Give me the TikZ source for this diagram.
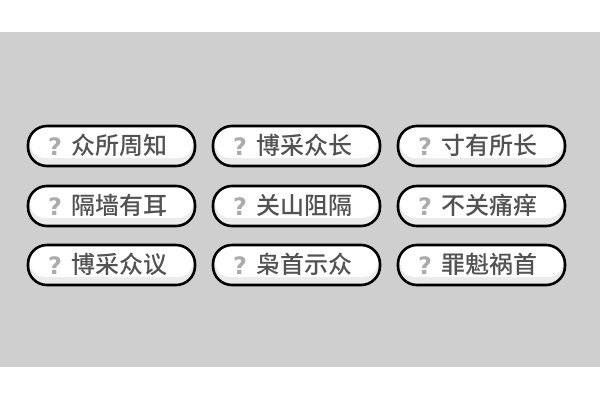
\documentclass[tikz,border=0pt]{standalone}
\usepackage{fontspec}
\newfontfamily\cjk{Noto Sans CJK SC}[BoldFont={* Medium}]
\newfontfamily\qf{DejaVu Sans}
\begin{document}
\begin{tikzpicture}[x=1pt,y=-1pt,
  btn/.style={draw=black,line width=2.6pt,rounded corners=19pt},
  lbl/.style={font=\cjk\bfseries\fontsize{24}{24}\selectfont,text=black!68,anchor=west},
  qm/.style={font=\qf\bfseries\fontsize{24}{24}\selectfont,text=black!33}]
\useasboundingbox (0,0) rectangle (600,400);
\fill[white] (0,0) rectangle (600,400);
\fill[black!19] (0,32) rectangle (600,367);
\foreach \r/\yy in {0/146,1/206,2/265}{
 \foreach \c/\xx in {0/28,1/213,2/398}{
  \fill[black!8,rounded corners=19pt] (\xx,\yy-20) rectangle (\xx+167,\yy+20);
  \fill[white,rounded corners=15pt] (\xx+2,\yy-19) rectangle (\xx+165,\yy+12);
  \draw[btn] (\xx,\yy-20) rectangle (\xx+167,\yy+20);
 }}
\foreach \n/\xx/\yy/\t in {a/28/146/众所周知,b/213/146/博采众长,c/398/146/寸有所长,
 d/28/206/隔墙有耳,e/213/206/关山阻隔,f/398/206/不关痛痒,
 g/28/265/博采众议,h/213/265/枭首示众,i/398/265/罪魁祸首}{
 \node[qm] (q\n) at (\xx+27,\yy+1) {?};
 \node[lbl] (t\n) at (\xx+40,\yy-1) {\t};
}
\end{tikzpicture}
\end{document}
